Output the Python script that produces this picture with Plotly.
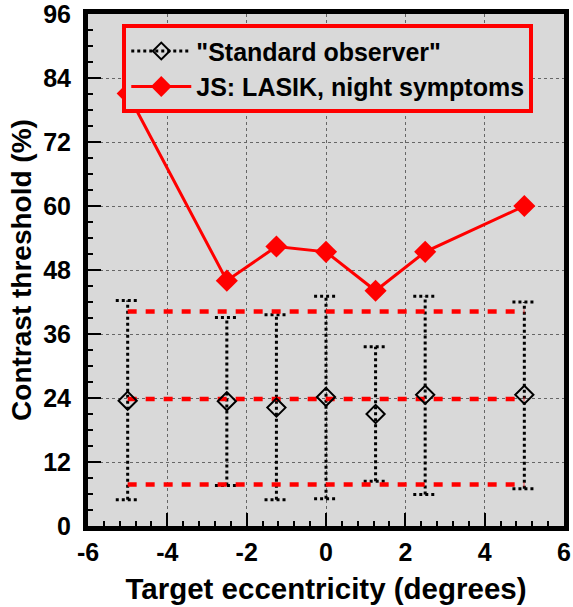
import plotly.graph_objects as go

# ---- data ----
ecc = [-5, -2.5, -1.25, 0, 1.25, 2.5, 5]
std_mean = [23.5, 23.4, 22.2, 24.2, 21.0, 24.6, 24.6]
std_upper = [42.3, 39.1, 39.6, 43.1, 33.6, 43.1, 42.0]
std_lower = [4.9, 7.6, 4.9, 5.1, 8.4, 5.9, 7.0]
js_vals = [81.1, 46.0, 52.4, 51.4, 44.1, 51.4, 60.0]
band_levels = [40.2, 23.8, 7.8]
band_x = [-5, 5]
x_ticks = [-6, -4, -2, 0, 2, 4, 6]
x_tick_labels = ["-6", "-4", "-2", "0", "2", "4", "6"]
y_ticks = [0, 12, 24, 36, 48, 60, 72, 84, 96]

CAP = 0.3
FONT = "Liberation Sans, Arial, sans-serif"

fig = go.Figure()

# error bars (dotted) built from data arrays
ex, ey = [], []
for x, lo, hi in zip(ecc, std_lower, std_upper):
    ex += [x, x, None, x - CAP, x + CAP, None, x - CAP, x + CAP, None]
    ey += [lo, hi, None, hi, hi, None, lo, lo, None]
fig.add_trace(go.Scatter(x=ex, y=ey, mode="lines", showlegend=False,
                         line=dict(color="black", width=3, dash="dot"),
                         hoverinfo="skip"))

# red dashed band lines
for lvl in band_levels:
    fig.add_trace(go.Scatter(x=band_x, y=[lvl, lvl], mode="lines", showlegend=False,
                             line=dict(color="#ff0000", width=4.5, dash="9px,9px"),
                             hoverinfo="skip"))

# standard observer means
fig.add_trace(go.Scatter(x=ecc, y=std_mean, mode="markers", showlegend=False,
                         marker=dict(symbol="diamond-open", size=14, color="black",
                                     line=dict(width=2, color="black"))))
# legend entry for standard observer
fig.add_trace(go.Scatter(x=[None], y=[None], mode="lines+markers",
                         name='"Standard observer"',
                         line=dict(color="black", width=3, dash="dot"),
                         marker=dict(symbol="diamond-open", size=13, color="black",
                                     line=dict(width=2, color="black"))))

# JS series
fig.add_trace(go.Scatter(x=ecc, y=js_vals, mode="lines+markers",
                         name="JS: LASIK, night symptoms",
                         line=dict(color="#ff0000", width=3),
                         marker=dict(symbol="diamond", size=17, color="#ff0000")))

axis_common = dict(
    showline=True, linewidth=5, linecolor="black", mirror=True,
    ticks="inside", ticklen=13, tickwidth=2, tickcolor="black",
    showgrid=True, gridcolor="#666666", gridwidth=1, griddash="dot",
    zeroline=False, automargin=False, ticklabeloverflow="allow",
    tickfont=dict(family=FONT, size=25, color="black", weight="bold"),
)

fig.update_xaxes(range=[-6, 6], tickvals=x_ticks, ticktext=x_tick_labels, **axis_common,
                 minor=dict(ticks="inside", ticklen=5, tickwidth=1.5, dtick=0.4,
                            tickcolor="black", showgrid=False),
                 title=dict(text="Target eccentricity (degrees)",
                            font=dict(family=FONT, size=29.5, color="black", weight="bold"),
                            standoff=15))
fig.update_yaxes(range=[0, 96], tickvals=y_ticks, **axis_common,
                 ticklabelstandoff=7,
                 minor=dict(ticks="inside", ticklen=5, tickwidth=1.5, dtick=3,
                            tickcolor="black", showgrid=False),
                 title=dict(text="Contrast threshold (%)",
                            font=dict(family=FONT, size=28, color="black", weight="bold"),
                            standoff=5))

fig.update_layout(
    width=573, height=607,
    margin=dict(l=88, r=9, t=14, b=81),
    paper_bgcolor="white", plot_bgcolor="#d9d9d9",
    font=dict(family=FONT, color="black"),
    legend=dict(x=0.072, y=0.98, xanchor="left", yanchor="top",
                bgcolor="#d9d9d9", bordercolor="#ff0000", borderwidth=4,
                font=dict(family=FONT, size=25, color="black", weight="bold"),
                itemwidth=60, tracegroupgap=0),
)

fig.write_html("out.html", config={"displayModeBar": False},
               post_script="document.body.style.margin='0';document.body.style.overflow='hidden';")
